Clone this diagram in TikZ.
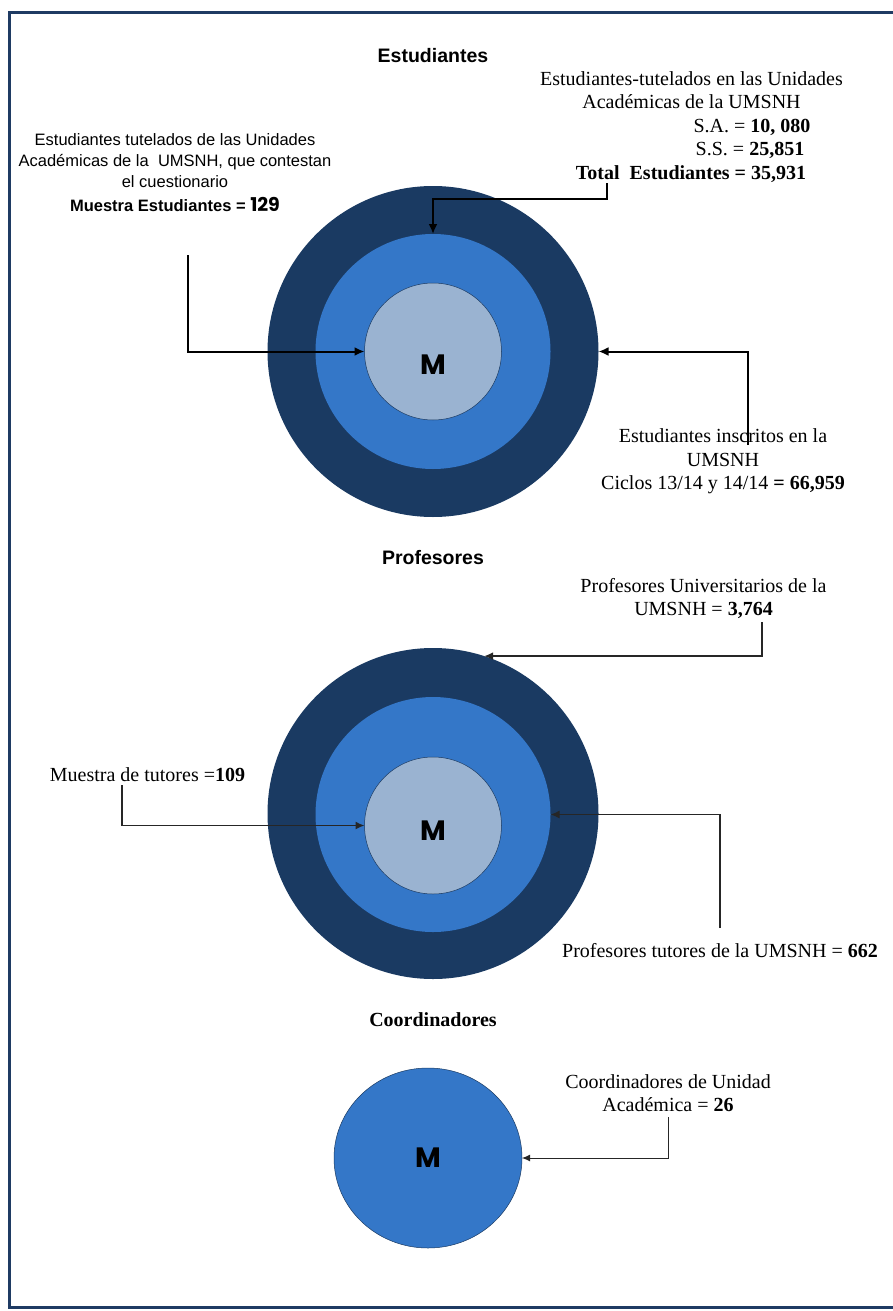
\documentclass[tikz,border=0pt]{standalone}
\usepackage{fontspec}
\setmainfont{Liberation Serif}
\newfontfamily\arial{Liberation Sans}
\newfontfamily\gothic{Poppins}
\usetikzlibrary{arrows.meta,shapes.geometric}

\definecolor{navy}{HTML}{1A3A62}
\definecolor{midblue}{HTML}{3477C8}
\definecolor{paleblue}{HTML}{9AB3D1}
\definecolor{framecol}{HTML}{1F3B63}
\definecolor{darkgrey}{HTML}{262626}

\tikzset{
  ring/.style={circle, inner sep=0pt, outer sep=0pt},
  outerring/.style={ring, fill=navy, minimum size=331pt},
  midring/.style={ring, fill=midblue, minimum size=235pt},
  core/.style={ring, fill=paleblue, draw=navy, line width=0.5pt, minimum size=137pt},
  mletter/.style={font=\gothic\bfseries\fontsize{28}{28}\selectfont},
  heading/.style={font=\arial\bfseries\fontsize{19.5}{22}\selectfont, inner sep=0pt},
  sanslbl/.style={font=\arial\fontsize{16.5}{21}\selectfont, align=center, inner sep=0pt},
  seriflbl/.style={font=\fontsize{20}{23.5}\selectfont, align=center, inner sep=0pt},
  link/.style={draw=black, line width=2pt, -{Latex[length=10pt,width=9pt]}},
  linkthin/.style={draw=darkgrey, line width=1.5pt, -{Latex[length=9pt,width=8pt]}},
  linkfine/.style={draw=darkgrey, line width=1pt, -{Latex[length=8pt,width=7pt]}}
}

\begin{document}
\begin{tikzpicture}[x=1pt,y=-1pt]
\useasboundingbox (0,0) rectangle (893,1311);
\draw[framecol, line width=3pt] (895,12.5) -- (9.5,12.5) -- (9.5,1307) -- (895,1307);

% Estudiantes
\node[heading] (hEst) at (433,56) {Estudiantes};
\node[outerring] (eOut) at (433,351.5) {};
\node[midring] (eMid) at (433,351.5) {};
\node[core] (eIn) at (433,351.5) {};
\node[mletter] (eM) at (433,365) {M};

\node[sanslbl] (eMue) at (175,173) {Estudiantes tutelados de las Unidades\\Académicas de la\ \ UMSNH, que contestan\\el cuestionario\\[3pt]\textbf{Muestra Estudiantes = }{\gothic\bfseries\fontsize{19}{21}\selectfont 129}};
\node[seriflbl] (eTut) at (691.5,90) {Estudiantes-tutelados en las Unidades\\Académicas de la UMSNH};
\node[seriflbl] (eSA) at (752,127) {S.A. = \textbf{10, 080}};
\node[seriflbl] (eSS) at (750,150) {S.S. = \textbf{25,851}};
\node[seriflbl] (eTot) at (691,174) {\textbf{Total\ \ Estudiantes = 35,931}};
\node[seriflbl] (eIns) at (723,461.5) {Estudiantes inscritos en la\\UMSNH\\Ciclos 13/14 y 14/14 \textbf{= 66,959}};

\coordinate (eTotTail) at (607,183);
\coordinate (eMueTail) at (188,255);
\coordinate (eInsTail) at (748,445);
\draw[link] (eTotTail) -- ++(0,16) -| (eMid.north);
\draw[link] (eMueTail) |- (eIn.west);
\draw[link] (eInsTail) |- (eOut.east);

% Profesores
\node[heading] (hProf) at (433,558) {Profesores};
\node[outerring] (pOut) at (433,813.5) {};
\node[midring] (pMid) at (433,814.5) {};
\node[core] (pIn) at (433,825.5) {};
\node[mletter] (pM) at (433,831) {M};

\node[seriflbl] (pUni) at (703.5,598.5) {Profesores Universitarios de la\\UMSNH = \textbf{3,764}};
\node[seriflbl] (pMue) at (147.5,775) {Muestra de tutores =\textbf{109}};
\node[seriflbl] (pTut) at (720,951) {Profesores tutores de la UMSNH = \textbf{662}};

\coordinate (pUniTail) at (762,622);
\coordinate (pMueTail) at (122,785);
\coordinate (pTutTail) at (720,928);
\draw[linkthin] (pUniTail) |- (pOut.72);
\draw[linkthin] (pMueTail) |- (pIn.west);
\draw[linkthin] (pTutTail) |- (pMid.east);

% Coordinadores
\node[font=\bfseries\fontsize{20}{22}\selectfont, inner sep=0pt] (hCoord) at (433,1020) {Coordinadores};
\node[ellipse, fill=midblue, draw=navy, line width=0.5pt, minimum width=188pt, minimum height=180pt,
      inner sep=0pt, outer sep=0pt, mletter] (cM) at (428,1158) {M};
\node[seriflbl] (cUni) at (668,1093) {Coordinadores de Unidad\\Académica = \textbf{26}};

\coordinate (cUniTail) at (668,1117);
\draw[linkfine] (cUniTail) |- (cM.east);
\end{tikzpicture}
\end{document}
